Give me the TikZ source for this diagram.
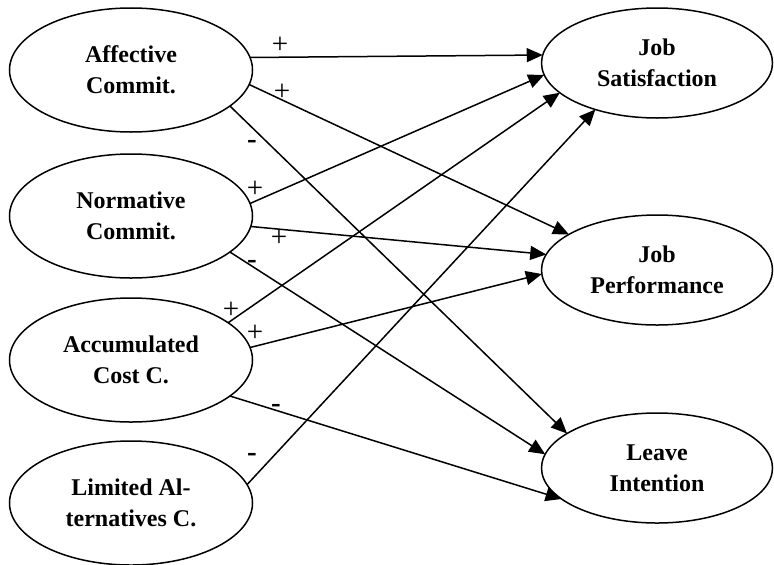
\documentclass[tikz,border=0pt]{standalone}
\usepackage{fontspec}
\setmainfont{Liberation Serif}
\usetikzlibrary{shapes.geometric,arrows.meta}

\begin{document}
\begin{tikzpicture}[x=0.5pt,y=0.5pt,
  lat/.style={ellipse,draw=black,line width=0.75pt,inner sep=0pt,outer sep=0pt,
    minimum width=121.5pt,minimum height=62pt,align=center,
    font=\fontsize{12}{15.5}\selectfont\bfseries},
  res/.style={lat,minimum width=115.5pt,minimum height=55pt},
  path/.style={line width=0.75pt,-{Triangle[length=8pt,width=7pt]}},
  sgn/.style={font=\fontsize{14.5}{16}\selectfont,inner sep=0pt}]
  \useasboundingbox (0,0) rectangle (774,564);
  % constructs
  \node[lat] (aff) at (131,494) {Affective\\Commit.};
  \node[lat] (norm) at (131,348) {Normative\\Commit.};
  \node[lat] (acc) at (131,204) {Accumulated\\Cost C.};
  \node[lat] (lim) at (131,61) {Limited Al-\\ternatives C.};
  \node[res] (sat) at (657,501) {Job\\Satisfaction};
  \node[res] (perf) at (657,294) {Job\\Performance};
  \node[res] (leave) at (657,96) {Leave\\Intention};
  % paths
  \draw[path] (aff.6) -- (sat.176);
  \draw[path] (aff.-7) -- (perf.158);
  \draw[path] (aff.-20) -- (leave.159);
  \draw[path] (norm.6) -- (sat.186);
  \draw[path] (norm.-5) -- (perf.172);
  \draw[path] (norm.-20) -- (leave.173);
  \draw[path] (acc.21) -- (sat.197);
  \draw[path] (acc.6) -- (perf.182);
  \draw[path] (acc.-20) -- (leave.198);
  \draw[path] (lim.9) -- (sat.217);
  % signs
  \node[sgn] (s1) at (280,519) {+};
  \node[sgn] (s2) at (282,472) {+};
  \node[sgn] (s3) at (252,420) {\textbf{-}};
  \node[sgn] (s4) at (255,375) {+};
  \node[sgn] (s5) at (279,326) {+};
  \node[sgn] (s6) at (252,300) {\textbf{-}};
  \node[sgn] (s7) at (231,254) {+};
  \node[sgn] (s8) at (255,231) {+};
  \node[sgn] (s9) at (276,156) {\textbf{-}};
  \node[sgn] (s10) at (252,107) {\textbf{-}};
\end{tikzpicture}
\end{document}
